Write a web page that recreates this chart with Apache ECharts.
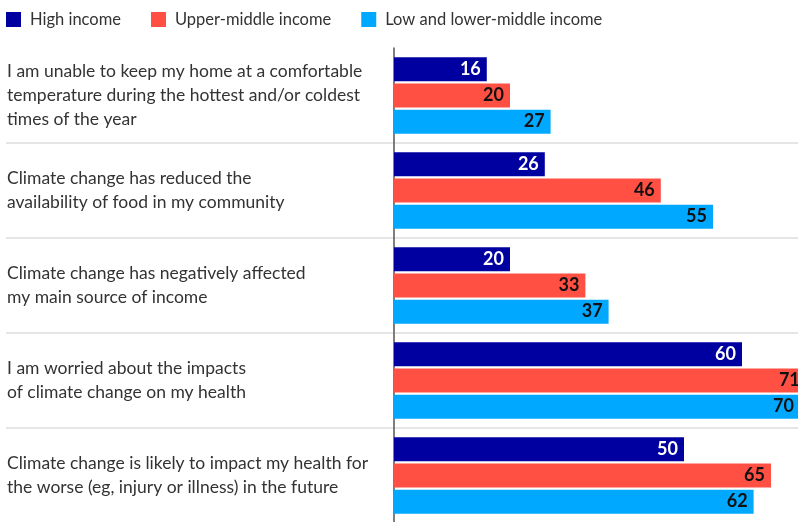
<!DOCTYPE html>
<html>
<head>
<meta charset="utf-8">
<script src="https://cdn.jsdelivr.net/npm/echarts@6/dist/echarts.min.js"></script>
<style>
  html, body { margin: 0; padding: 0; background: #ffffff; }
  #chart { width: 798px; height: 522px; }
</style>
</head>
<body>
<div id="chart"></div>
<script>
// Survey statements (top to bottom)
const statements = [
  'I am unable to keep my home at a comfortable\ntemperature during the hottest and/or coldest\ntimes of the year',
  'Climate change has reduced the\navailability of food in my community',
  'Climate change has negatively affected\nmy main source of income',
  'I am worried about the impacts\nof climate change on my health',
  'Climate change is likely to impact my health for\nthe worse (eg, injury or illness) in the future'
];

// Share of respondents agreeing, % by country income group
const highIncome = [16, 26, 20, 60, 50];
const upperMiddleIncome = [20, 46, 33, 71, 65];
const lowerIncome = [27, 55, 37, 70, 62];

const seriesNames = ['High income', 'Upper-middle income', 'Low and lower-middle income'];
const seriesColors = ['#0000a0', '#ff5043', '#00a8ff'];
const labelColors = ['#ffffff', '#111111', '#111111'];
const seriesValues = [highIncome, upperMiddleIncome, lowerIncome];

const FONT = 'Lato, "Noto Sans", sans-serif';

const chart = echarts.init(document.getElementById('chart'), null, { renderer: 'canvas' });

chart.setOption({
  animation: false,
  backgroundColor: '#ffffff',
  textStyle: { fontFamily: FONT },
  legend: {
    left: 6,
    top: 11,
    padding: 0,
    icon: 'rect',
    itemWidth: 15,
    itemHeight: 15,
    itemGap: 30,
    textStyle: { fontSize: 16.5, color: '#333333', fontFamily: FONT, padding: [0, 0, 0, 4] },
    data: seriesNames
  },
  grid: [
    // full-width band grid: statement labels and separators
    { left: 6, right: 0, top: 48, height: 475, outerBoundsMode: 'none', containLabel: false },
    // bar grid; the axis runs past the right edge so the longest bars are cut off
    { left: 394, width: 464, top: 48, height: 475, outerBoundsMode: 'none', containLabel: false }
  ],
  xAxis: [
    { gridIndex: 0, type: 'value', min: 0, max: 1, show: false },
    { gridIndex: 1, type: 'value', min: 0, max: 80, show: false }
  ],
  yAxis: [
    {
      gridIndex: 0,
      type: 'category',
      inverse: true,
      data: statements,
      axisLine: { show: false },
      axisTick: { show: false },
      axisLabel: {
        inside: true,
        margin: 1,
        align: 'left',
        verticalAlign: 'middle',
        fontSize: 17.5,
        lineHeight: 24,
        padding: [6, 0, 0, 0],
        color: '#333333',
        fontFamily: FONT
      },
      splitLine: {
        show: true,
        interval: function (index) { return index > 0; },
        lineStyle: { color: '#dddddd', width: 1.5 }
      }
    },
    {
      gridIndex: 1,
      type: 'category',
      inverse: true,
      data: statements,
      axisLine: { show: true, lineStyle: { color: '#555555', width: 1.5 } },
      axisTick: { show: false },
      axisLabel: { show: false },
      splitLine: { show: false }
    }
  ],
  series: seriesValues.map(function (vals, i) {
    return {
      name: seriesNames[i],
      type: 'bar',
      xAxisIndex: 1,
      yAxisIndex: 1,
      data: vals,
      barWidth: 24,
      barGap: '9%',
      clip: false,
      itemStyle: { color: seriesColors[i] },
      label: {
        show: true,
        position: 'insideRight',
        distance: 6,
        color: labelColors[i],
        fontSize: 18,
        fontWeight: 'bold',
        fontFamily: FONT
      }
    };
  })
});
</script>
</body>
</html>
